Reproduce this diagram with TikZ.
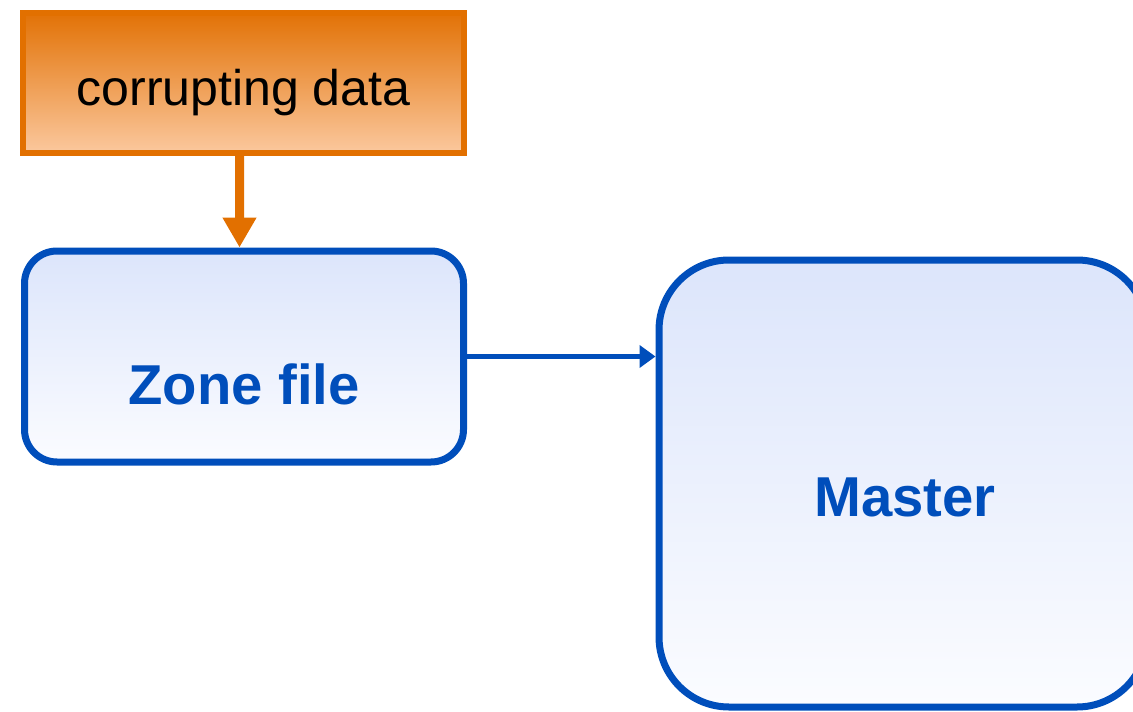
\documentclass[tikz,border=0pt]{standalone}
\usepackage{fontspec}
\setmainfont{Liberation Sans}
\usetikzlibrary{arrows.meta,positioning}
\definecolor{zoneblue}{RGB}{0,78,187}
\definecolor{corruptorange}{RGB}{226,112,0}
\definecolor{orangetop}{RGB}{226,114,6}
\definecolor{orangebottom}{RGB}{251,200,158}
\definecolor{bluetop}{RGB}{220,229,251}
\definecolor{bluebottom}{RGB}{251,252,255}
\tikzset{
  corruptbox/.style={draw=corruptorange, line width=0.13cm, top color=orangetop, bottom color=orangebottom,
    minimum width=8.82cm, minimum height=2.8cm, inner sep=0pt, text height=1.13cm, text depth=0.21cm,
    font=\fontsize{28.5}{34}\selectfont},
  serverbox/.style={draw=zoneblue, line width=0.14cm, top color=bluetop, bottom color=bluebottom, inner sep=0pt},
  serverlabel/.style={text=zoneblue, inner sep=0pt, font=\fontsize{32}{38}\selectfont\bfseries},
}

\begin{document}
\begin{tikzpicture}
\useasboundingbox (0,0) rectangle (22.66,14.22);
\clip (0,0) rectangle (22.66,14.22);
% boxes
\node[corruptbox] (corrupt) at (4.87,12.56) {corrupting data};
\node[serverbox, minimum width=8.78cm, minimum height=4.22cm, rounded corners=0.65cm] (zone) at (4.88,7.09) {};
\node[serverbox, minimum width=9.76cm, minimum height=8.94cm, rounded corners=1.4cm] (master) at (18.06,4.55) {};
% labels
\node[serverlabel] (zonelabel) at (4.88,6.54) {Zone file};
\node[serverlabel] (masterlabel) at (18.1,4.28) {Master};
% arrows
\draw[corruptorange, line width=0.18cm, -{Triangle[length=0.6cm, width=0.64cm]}] ([xshift=-0.08cm]corrupt.south) -- ([xshift=-0.09cm]zone.north);
\draw[zoneblue, line width=0.1cm, -{Triangle[length=0.32cm, width=0.44cm]}] (zone.east) -- (zone.east -| master.west);
\end{tikzpicture}
\end{document}
